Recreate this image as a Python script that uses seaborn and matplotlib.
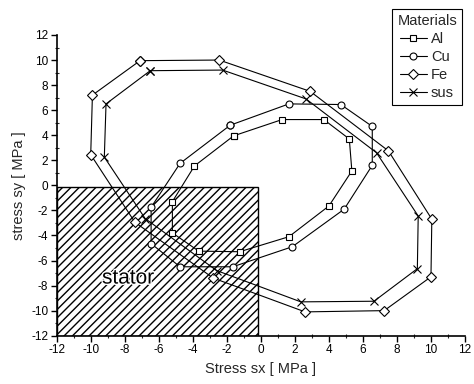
import matplotlib
matplotlib.use("Agg")
import matplotlib.pyplot as plt
import matplotlib.patheffects as pe
import seaborn as sns
import pandas as pd
from matplotlib.patches import Rectangle
from matplotlib.lines import Line2D
from matplotlib.ticker import MultipleLocator

# ---- data ----
materials = ["Al", "Cu", "Fe", "sus"]
al_x = [-1.6, 1.25, 3.7, 5.2, 5.35, 4.0, 1.65, -1.25, -3.65, -5.2, -5.2, -3.9]
al_y = [3.95, 5.25, 5.25, 3.7, 1.15, -1.65, -4.1, -5.3, -5.25, -3.8, -1.3, 1.55]
cu_x = [-1.8, 1.65, 4.7, 6.55, 6.55, 4.9, 1.85, -1.65, -4.75, -6.45, -6.45, -4.75]
cu_y = [4.8, 6.5, 6.45, 4.7, 1.6, -1.9, -4.9, -6.5, -6.5, -4.65, -1.75, 1.75]
fe_x = [-7.1, -2.45, 2.9, 7.5, 10.05, 10.0, 7.25, 2.6, -2.8, -7.4, -10.0, -9.9]
fe_y = [9.95, 10.0, 7.5, 2.75, -2.7, -7.3, -10.0, -10.1, -7.4, -2.95, 2.45, 7.2]
sus_x = [-6.5, -2.25, 2.65, 6.8, 9.25, 9.2, 6.65, 2.35, -2.6, -6.8, -9.2, -9.1]
sus_y = [9.15, 9.2, 6.9, 2.6, -2.45, -6.65, -9.25, -9.3, -6.8, -2.65, 2.25, 6.5]
stator_x = [-12, -0.15]
stator_y = [-12, -0.15]
xticks = list(range(-12, 13, 2))
yticks = list(range(-12, 13, 2))

series = {"Al": (al_x, al_y), "Cu": (cu_x, cu_y), "Fe": (fe_x, fe_y), "sus": (sus_x, sus_y)}
markers = {"Al": "s", "Cu": "o", "Fe": "D", "sus": "x"}
msizes = {"Al": 4.5, "Cu": 5.0, "Fe": 4.6, "sus": 6.0}

sns.set_theme(style="ticks")
plt.rcParams["font.family"] = ["Liberation Sans", "DejaVu Sans"]
plt.rcParams["axes.unicode_minus"] = False
plt.rcParams["hatch.linewidth"] = 1.0

fig = plt.figure(figsize=(4.74, 3.84), dpi=100)
ax = fig.add_axes([0.1196, 0.1258, 0.8614, 0.7831])

# stator region
ax.add_patch(Rectangle((stator_x[0], stator_y[0]), stator_x[1] - stator_x[0],
                       stator_y[1] - stator_y[0], facecolor="white",
                       edgecolor="black", hatch="////", linewidth=1.0, zorder=1))
ax.text(-7.8, -7.4, "stator", fontsize=15, ha="center", va="center", zorder=2,
        color="black",
        path_effects=[pe.withStroke(linewidth=2.0, foreground="white")])

handles = []
for m in materials:
    xs, ys = series[m]
    df = pd.DataFrame({"sx": xs + xs[:1], "sy": ys + ys[:1]})
    sns.lineplot(data=df, x="sx", y="sy", sort=False, estimator=None, ax=ax,
                 color="black", linewidth=0.8, marker=markers[m],
                 markersize=msizes[m], markerfacecolor="white",
                 markeredgecolor="black", markeredgewidth=0.8, zorder=3)
    handles.append(Line2D([], [], color="black", linewidth=0.8, marker=markers[m],
                          markersize=msizes[m], markerfacecolor="white",
                          markeredgecolor="black", markeredgewidth=0.8))

ax.set_xlim(-12, 12)
ax.set_ylim(-12, 12)
ax.set_xticks(xticks)
ax.set_yticks(yticks)
ax.xaxis.set_minor_locator(MultipleLocator(1))
ax.yaxis.set_minor_locator(MultipleLocator(1))
ax.tick_params(which="major", direction="out", length=4, width=1.0, labelsize=8.5,
               colors="black", pad=2)
ax.tick_params(which="minor", direction="inout", length=3, width=0.8)
ax.tick_params(axis="x", which="both", bottom=True)
ax.tick_params(axis="y", which="both", left=True)
for s in ["top", "right"]:
    ax.spines[s].set_visible(False)
for s in ["left", "bottom"]:
    ax.spines[s].set_color("black")
    ax.spines[s].set_linewidth(1.2)

ax.set_xlabel("Stress sx [ MPa ]", fontsize=10.5, labelpad=4)
ax.set_ylabel("stress sy [ MPa ]", fontsize=10.5, labelpad=4)
ax.grid(False)

leg = fig.legend(handles, materials, title="Materials", loc="upper right",
                 bbox_to_anchor=(0.975, 0.977), fontsize=10.5, title_fontsize=10.5,
                 frameon=True, fancybox=False, edgecolor="black",
                 handlelength=1.8, handletextpad=0.3, borderpad=0.35,
                 labelspacing=0.28, borderaxespad=0.0)
leg.get_frame().set_linewidth(0.8)
leg.get_frame().set_alpha(1)

fig.savefig("out.png", dpi=100)
